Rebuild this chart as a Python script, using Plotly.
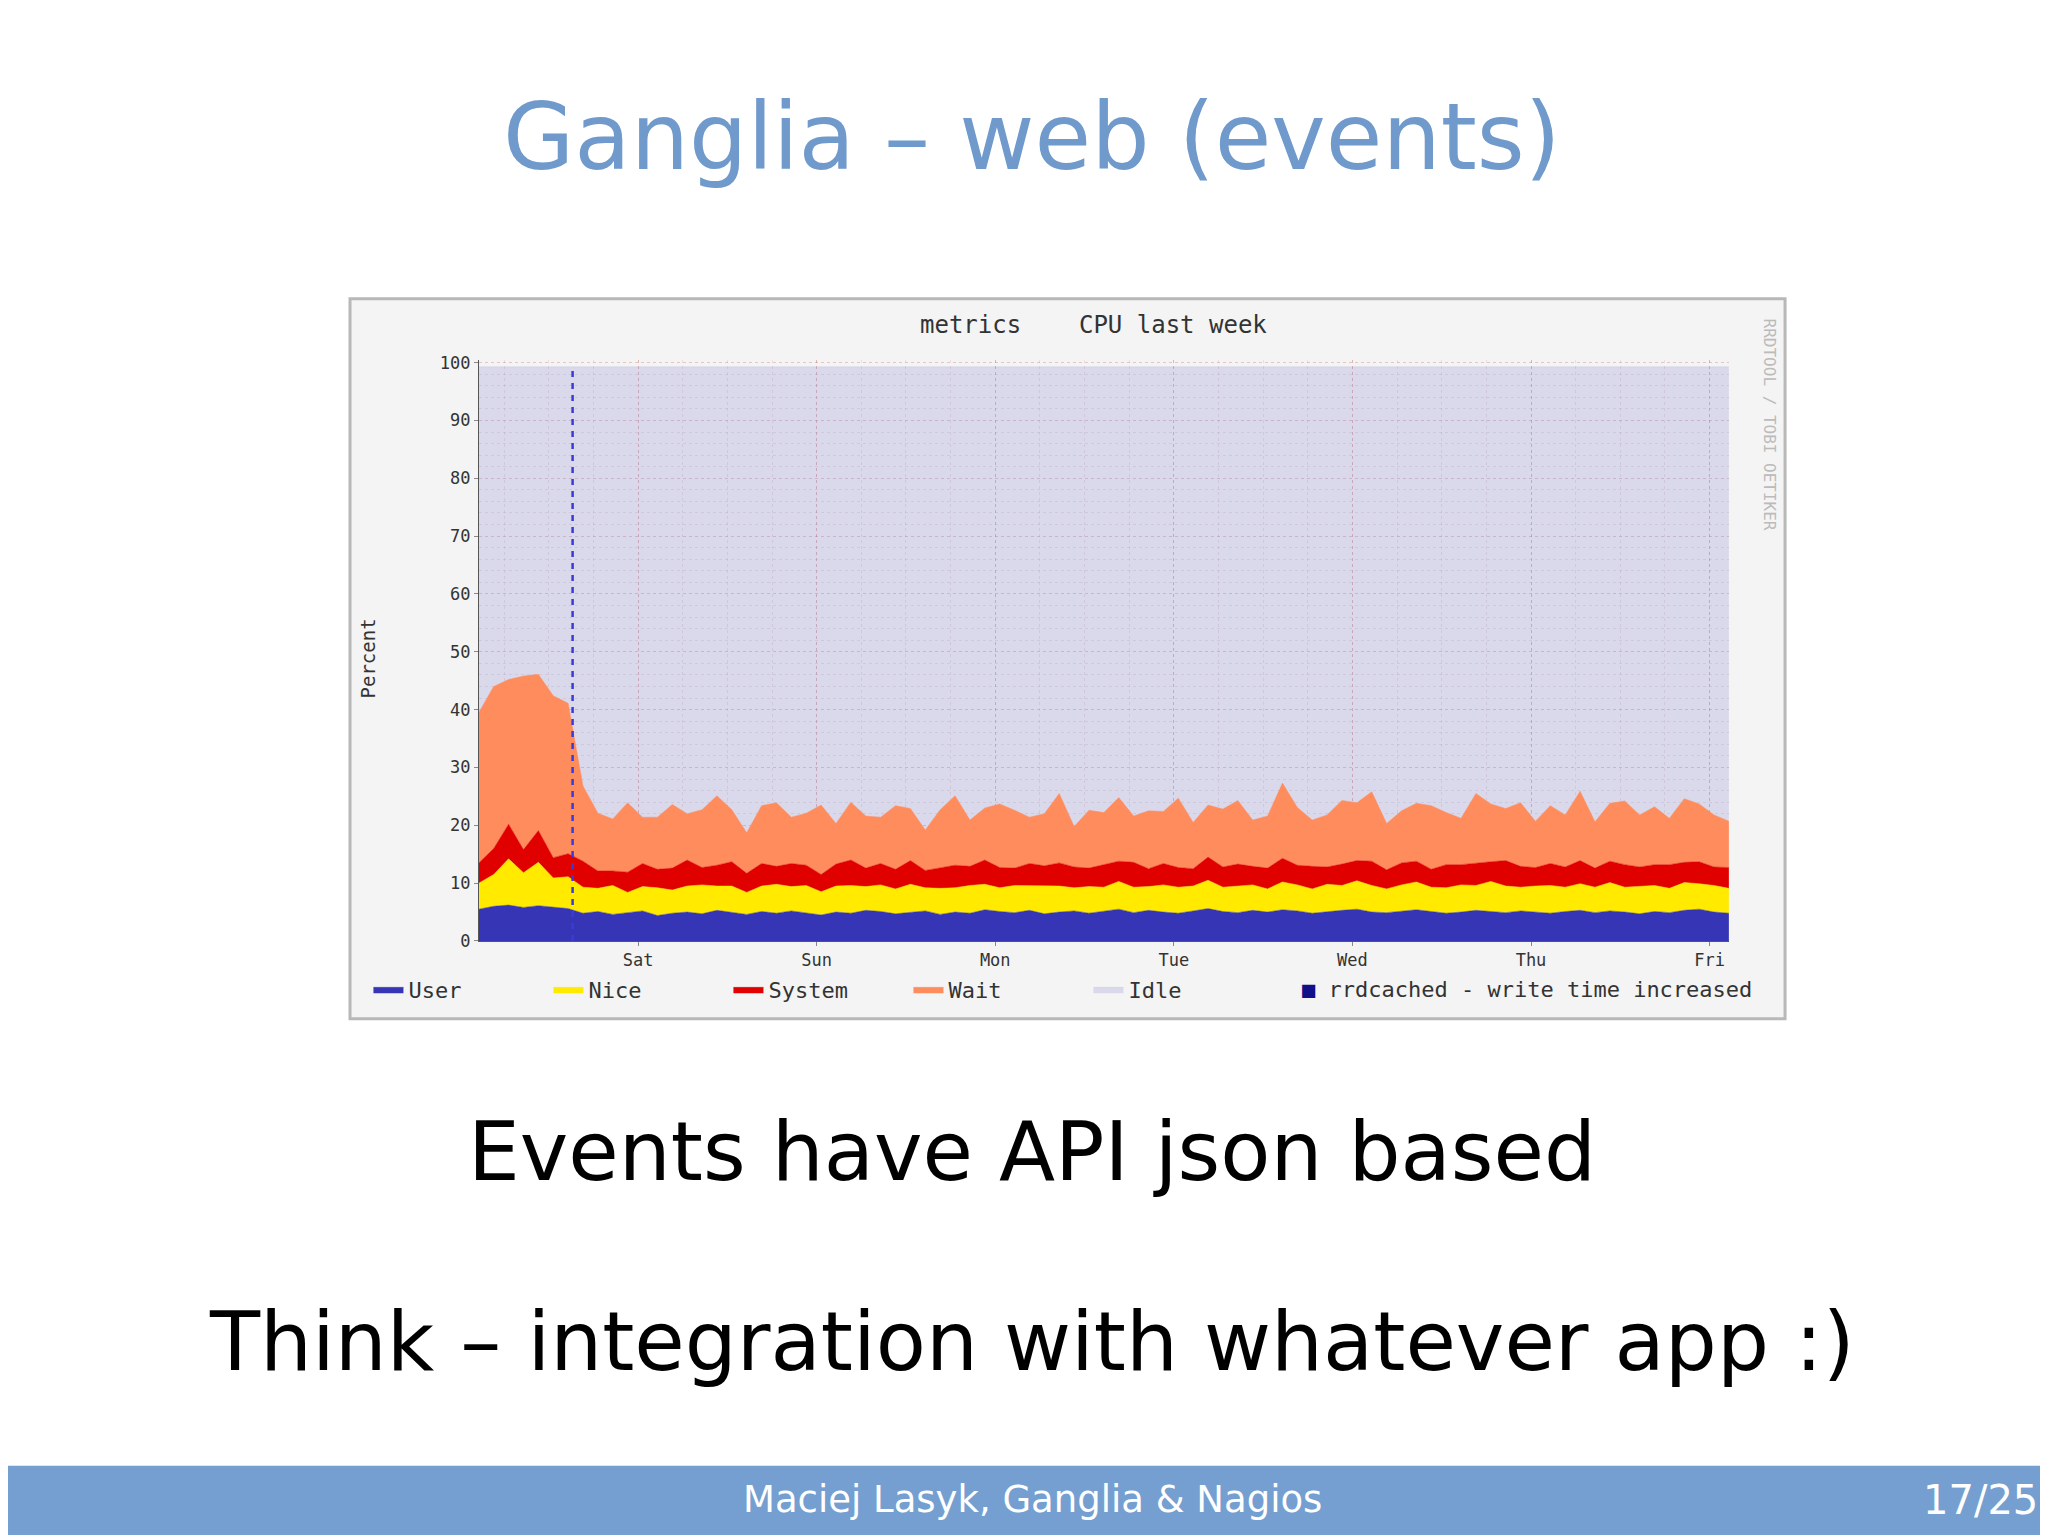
import plotly.graph_objects as go

day_labels = ["Sat", "Sun", "Mon", "Tue", "Wed", "Thu", "Fri"]
day_hours = [21.4, 45.4, 69.4, 93.4, 117.4, 141.4, 165.4]
event_hour = 12.6

user = [5.5,6.0,6.2,5.8,6.1,5.9,5.6,4.8,5.1,4.6,4.9,5.2,4.4,4.8,5.0,4.7,5.3,4.9,4.6,5.1,4.8,5.2,4.9,4.5,5.0,4.8,5.3,5.1,4.7,4.9,5.2,4.6,5.0,4.8,5.4,5.1,4.9,5.3,4.7,5.0,5.2,4.8,5.1,5.5,4.9,5.3,5.0,4.8,5.2,5.6,5.1,4.9,5.3,5.0,5.4,5.2,4.8,5.1,5.3,5.5,5.0,4.9,5.2,5.4,5.1,4.8,5.0,5.3,5.1,4.9,5.2,5.0,4.8,5.1,5.3,4.9,5.2,5.0,4.7,5.1,4.9,5.3,5.5,5.0,4.8]
nice = [4.5,5.5,8.0,6.0,7.5,5.0,5.5,4.5,4.0,5.0,3.5,4.2,4.8,4.0,4.5,5.0,4.2,4.6,3.8,4.4,5.0,4.2,4.7,4.0,4.5,4.8,4.1,4.6,4.3,4.9,4.0,4.5,4.2,4.8,4.4,4.1,4.7,4.3,4.9,4.5,4.0,4.6,4.2,4.8,4.4,4.1,4.7,4.5,4.3,4.9,4.2,4.6,4.4,4.0,4.8,4.5,4.2,4.7,4.3,4.9,4.6,4.1,4.5,4.8,4.2,4.4,4.7,4.3,5.2,4.6,4.1,4.5,4.8,4.2,4.6,4.4,4.9,4.3,4.7,4.5,4.2,4.8,4.4,4.6,4.3]
system = [3.5,4.5,6.0,4.0,5.5,3.5,4.0,4.5,3.0,2.5,3.5,4.0,3.2,3.8,4.5,3.0,3.6,4.2,3.3,3.9,3.1,4.0,3.5,3.0,3.8,4.4,3.2,3.7,3.4,4.1,3.0,3.6,3.9,3.3,4.2,3.5,3.0,3.8,3.4,4.0,3.6,3.2,3.9,3.5,4.3,3.1,3.7,3.4,3.0,4.0,3.5,3.8,3.2,3.6,4.1,3.4,3.9,3.0,3.7,3.5,4.2,3.3,3.8,3.6,3.1,4.0,3.5,3.9,3.4,4.4,3.6,3.2,3.8,3.5,4.0,3.3,3.7,3.9,3.4,3.6,4.1,3.5,3.8,3.2,3.6]
wait = [26,28,25,30,27,28,26,13,10,9,12,8,9,11,8,10,12,9,7,10,11,8,9,12,7,10,9,8,11,9,7,10,12,8,9,11,10,8,9,12,7,10,9,11,8,10,9,12,8,9,10,11,8,9,13,10,8,9,11,10,12,8,9,10,11,9,8,12,10,9,11,8,10,9,12,8,10,11,9,10,8,11,10,9,8]
top_level = 99.3

n = min(len(user), len(nice), len(system), len(wait))
user, nice, system, wait = user[:n], nice[:n], system[:n], wait[:n]
hours = [i * 168.0 / (n - 1) for i in range(n)]
idle = [top_level - (u + a + s + w) for u, a, s, w in zip(user, nice, system, wait)]

fig = go.Figure()
series = [("User", user, "#3535b5"), ("Nice", nice, "#ffea00"),
          ("System", system, "#e00000"), ("Wait", wait, "#ff8c5c"),
          ("Idle", idle, "rgba(110,110,200,0.2)")]
for name, vals, col in series:
    fig.add_trace(go.Scatter(x=hours, y=vals, name=name, stackgroup="cpu",
                             mode="lines", line=dict(width=0.5, color=col),
                             fillcolor=col))
fig.add_trace(go.Scatter(x=[event_hour, event_hour], y=[0, top_level], mode="lines",
                         name="rrdcached - write time increased", showlegend=False,
                         line=dict(color="#3a3ad8", width=2.5, dash="6px,6px")))

mono = "DejaVu Sans Mono"
grid_major = "rgba(200,110,110,0.35)"
grid_minor = "rgba(190,150,150,0.22)"
fig.update_layout(
    width=2048, height=1535, paper_bgcolor="white", plot_bgcolor="white",
    margin=dict(l=0, r=0, t=0, b=0),
    xaxis=dict(domain=[0.2299, 0.8403], range=[0, 168], tickvals=day_hours, ticktext=day_labels,
               showgrid=True, gridcolor=grid_major, griddash="dot",
               minor=dict(dtick=6, tick0=day_hours[0], showgrid=True, gridcolor=grid_minor, griddash="dot"),
               ticks="outside", ticklen=4, tickcolor="#888",
               showline=True, linecolor="#555", tickfont=dict(family=mono, size=17, color="#333"),
               zeroline=False),
    yaxis=dict(domain=[0.3900, 0.7729], range=[0, 100.5], dtick=10,
               showgrid=True, gridcolor=grid_major, griddash="dot",
               minor=dict(dtick=2, showgrid=True, gridcolor=grid_minor, griddash="dot"),
               ticks="outside", ticklen=4, tickcolor="#888",
               showline=True, linecolor="#555", tickfont=dict(family=mono, size=17, color="#333"),
               zeroline=False),
    showlegend=True,
    legend=dict(orientation="h", x=0.176, y=0.358, yanchor="middle", xanchor="left",
                font=dict(family=mono, size=22, color="#333"), bgcolor="rgba(0,0,0,0)",
                entrywidth=135, traceorder="normal", itemwidth=30),
)

fig.add_shape(type="rect", xref="paper", yref="paper", x0=0.1670, x1=0.8677, y0=0.3388, y1=0.813,
              line=dict(color="#b8b8b8", width=3), fillcolor="#f4f4f4", layer="below")

def note(text, x, y, size, color, family=mono, angle=0, xanchor="center"):
    fig.add_annotation(text=text, xref="paper", yref="paper", x=x, y=y, xanchor=xanchor,
                       yanchor="middle", textangle=angle, showarrow=False,
                       font=dict(family=family, size=size, color=color))

note("metrics    CPU last week", 0.530, 0.796, 24, "#333")
note("Percent", 0.1757, 0.576, 19, "#333", angle=-90)
note("RRDTOOL / TOBI OETIKER", 0.860, 0.73, 16, "#bbb", angle=90)
note("<span style='color:#10108a'>■</span> rrdcached - write time increased", 0.631, 0.358, 22, "#333", xanchor="left")

note("Ganglia – web (events)", 0.5, 0.919, 92, "#6f9acb", family="DejaVu Sans")
note("Events have API json based", 0.5, 0.251, 82, "black", family="DejaVu Sans")
note("Think – integration with whatever app :)", 0.5, 0.126, 82, "black", family="DejaVu Sans")

fig.add_shape(type="rect", xref="paper", yref="paper", x0=-0.01, x1=1.01, y0=-0.01, y1=0.0443,
              line=dict(width=0), fillcolor="#749fd0")
note("Maciej Lasyk, Ganglia & Nagios", 0.5, 0.022, 37, "white", family="DejaVu Sans")
note("17/25", 0.992, 0.022, 40, "white", family="DejaVu Sans", xanchor="right")

fig.write_html("out.html")
